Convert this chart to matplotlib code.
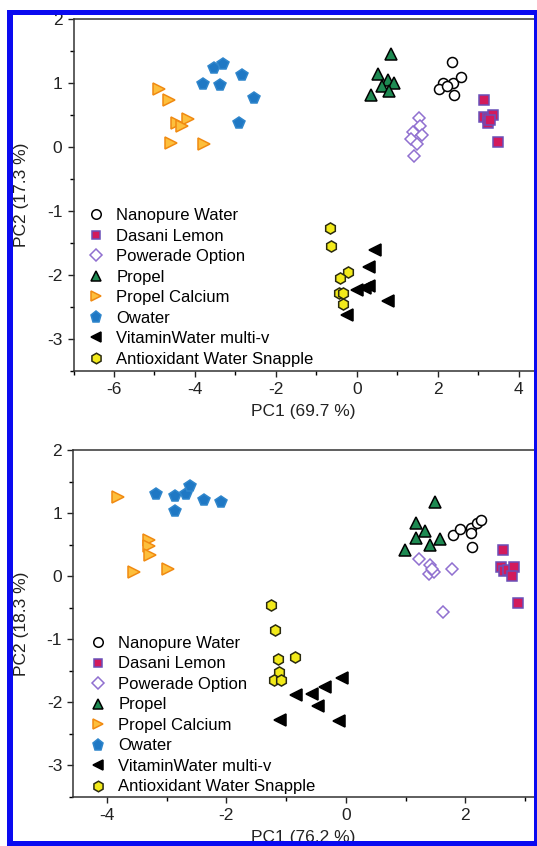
import matplotlib
matplotlib.use("Agg")
import matplotlib.pyplot as plt
from matplotlib.patches import Rectangle

plt.rcParams['font.family'] = ['Liberation Sans', 'DejaVu Sans']
plt.rcParams['axes.unicode_minus'] = False

labels = ["Nanopure Water", "Dasani Lemon", "Powerade Option", "Propel",
          "Propel Calcium", "Owater", "VitaminWater multi-v",
          "Antioxidant Water Snapple"]

# top panel: PC1 (69.7 %) vs PC2 (17.3 %)
top_x = {
    "Nanopure Water": [2.36, 2.12, 2.37, 2.58, 2.02, 2.24, 2.39],
    "Dasani Lemon": [3.15, 3.13, 3.25, 3.37, 3.23, 3.30, 3.48],
    "Powerade Option": [1.54, 1.56, 1.40, 1.62, 1.34, 1.48, 1.42],
    "Propel": [0.84, 0.53, 0.77, 0.93, 0.63, 0.80, 0.35],
    "Propel Calcium": [-4.88, -4.63, -4.44, -4.18, -4.31, -4.60, -3.78],
    "Owater": [-3.81, -3.52, -3.31, -3.38, -2.84, -2.54, -2.90],
    "VitaminWater multi-v": [0.44, 0.29, 0.00, 0.19, 0.30, 0.77, -0.25],
    "Antioxidant Water Snapple": [-0.66, -0.64, -0.22, -0.41, -0.43, -0.35, -0.35],
}
top_y = {
    "Nanopure Water": [1.33, 1.00, 1.00, 1.09, 0.91, 0.95, 0.82],
    "Dasani Lemon": [0.74, 0.47, 0.45, 0.50, 0.37, 0.42, 0.08],
    "Powerade Option": [0.46, 0.33, 0.24, 0.18, 0.12, 0.05, -0.14],
    "Propel": [1.45, 1.14, 1.04, 1.00, 0.95, 0.87, 0.82],
    "Propel Calcium": [0.91, 0.74, 0.38, 0.44, 0.33, 0.07, 0.05],
    "Owater": [0.98, 1.24, 1.30, 0.97, 1.13, 0.76, 0.38],
    "VitaminWater multi-v": [-1.61, -1.88, -2.24, -2.21, -2.17, -2.41, -2.63],
    "Antioxidant Water Snapple": [-1.26, -1.55, -1.95, -2.05, -2.28, -2.28, -2.46],
}

# bottom panel: PC1 (76.2 %) vs PC2 (18.3 %)
bot_x = {
    "Nanopure Water": [1.79, 1.91, 2.10, 2.10, 2.19, 2.27, 2.11],
    "Dasani Lemon": [2.63, 2.59, 2.65, 2.72, 2.81, 2.78, 2.88],
    "Powerade Option": [1.22, 1.41, 1.39, 1.48, 1.78, 1.45, 1.63],
    "Propel": [1.50, 1.17, 1.33, 1.17, 1.41, 1.57, 0.99],
    "Propel Calcium": [-3.82, -3.30, -3.29, -3.27, -3.54, -2.97],
    "Owater": [-3.18, -2.85, -2.86, -2.68, -2.60, -2.38, -2.09],
    "VitaminWater multi-v": [-0.06, -0.35, -0.56, -0.83, -0.47, -1.10, -0.11],
    "Antioxidant Water Snapple": [-1.26, -1.19, -1.13, -0.85, -1.11, -1.20, -1.08],
}
bot_y = {
    "Nanopure Water": [0.66, 0.74, 0.77, 0.69, 0.85, 0.89, 0.47],
    "Dasani Lemon": [0.41, 0.14, 0.08, 0.10, 0.15, 0.00, -0.43],
    "Powerade Option": [0.27, 0.17, 0.04, 0.07, 0.11, 0.12, -0.57],
    "Propel": [1.17, 0.84, 0.71, 0.61, 0.50, 0.59, 0.42],
    "Propel Calcium": [1.26, 0.58, 0.48, 0.33, 0.07, 0.12],
    "Owater": [1.31, 1.27, 1.04, 1.30, 1.43, 1.21, 1.17],
    "VitaminWater multi-v": [-1.61, -1.76, -1.86, -1.89, -2.06, -2.28, -2.29],
    "Antioxidant Water Snapple": [-0.46, -0.85, -1.31, -1.28, -1.52, -1.64, -1.65],
}

styles = {
    "Nanopure Water": dict(marker="o", mfc="white", mec="black", ms=7.2),
    "Dasani Lemon": dict(marker="s", mfc="#d21a5c", mec="#6a4fb8", ms=6.5),
    "Powerade Option": dict(marker="D", mfc="white", mec="#9070d0", ms=6.3),
    "Propel": dict(marker="^", mfc="#1e8a52", mec="black", ms=8),
    "Propel Calcium": dict(marker=">", mfc="#fdbf3c", mec="#f08a12", ms=8),
    "Owater": dict(marker="p", mfc="#1f78c4", mec="#2f86cc", ms=8.5),
    "VitaminWater multi-v": dict(marker="<", mfc="black", mec="black", ms=8),
    "Antioxidant Water Snapple": dict(marker="h", mfc="#f2ea1a", mec="#2a2a10", ms=8),
}

W, H = 537, 846
fig = plt.figure(figsize=(W / 100, H / 100), dpi=100)
fig.patch.set_facecolor("white")


def make_panel(rect_px, xlim, xs, ys, xlabel, ylabel, xmaj, xmin, leg_xy):
    l, t, r, b = rect_px
    ax = fig.add_axes([l / W, 1 - b / H, (r - l) / W, (b - t) / H])
    for name in labels:
        ax.plot(xs[name], ys[name], ls="none", mew=1.1, label=name, **styles[name])
    ax.set_xlim(*xlim)
    ax.set_ylim(-3.5, 2)
    ax.set_xticks(xmaj)
    ax.set_xticks(xmin, minor=True)
    ax.set_yticks([-3, -2, -1, 0, 1, 2])
    ax.set_yticks([-3.5, -2.5, -1.5, -0.5, 0.5, 1.5], minor=True)
    ax.tick_params(which="major", direction="out", length=4.5, width=1.0, labelsize=12.5, colors="#222222")
    ax.tick_params(which="minor", direction="out", length=2.8, width=1.0)
    for s in ax.spines.values():
        s.set_linewidth(1.1)
        s.set_color("#333333")
    ax.set_xlabel(xlabel, fontsize=12.5, color="#222222")
    ax.set_ylabel(ylabel, fontsize=12.5, color="#222222")
    ax.xaxis.set_label_coords(0.489, -0.095)
    ax.yaxis.set_label_coords(-0.095, 0.5)
    ax.legend(loc="upper left", bbox_to_anchor=leg_xy, frameon=False, fontsize=12,
              handlelength=1.0, handletextpad=0.7, labelspacing=0.33,
              borderpad=0, borderaxespad=0, markerscale=0.95)
    return ax


make_panel((73.5, 19, 543, 371), (-7.0, 4.6), top_x, top_y,
           "PC1 (69.7 %)", "PC2 (17.3 %)",
           [-6, -4, -2, 0, 2, 4], [-7, -5, -3, -1, 1, 3], (0.031, 0.463))
make_panel((73.3, 450, 543, 797), (-4.56, 3.3), bot_x, bot_y,
           "PC1 (76.2 %)", "PC2 (18.3 %)",
           [-4, -2, 0, 2], [-3, -1, 1, 3], (0.0355, 0.464))

# blue frame around the figure
blue = "#0a0af0"
for (x0, y0, x1, y1) in [(7, 10, 13, 846), (7, 10, 537, 15), (534, 10, 537, 846), (7, 841, 537, 846)]:
    fig.add_artist(Rectangle((x0 / W, 1 - y1 / H), (x1 - x0) / W, (y1 - y0) / H,
                             transform=fig.transFigure, facecolor=blue, edgecolor="none", zorder=10))

fig.savefig("out.png", dpi=100)
